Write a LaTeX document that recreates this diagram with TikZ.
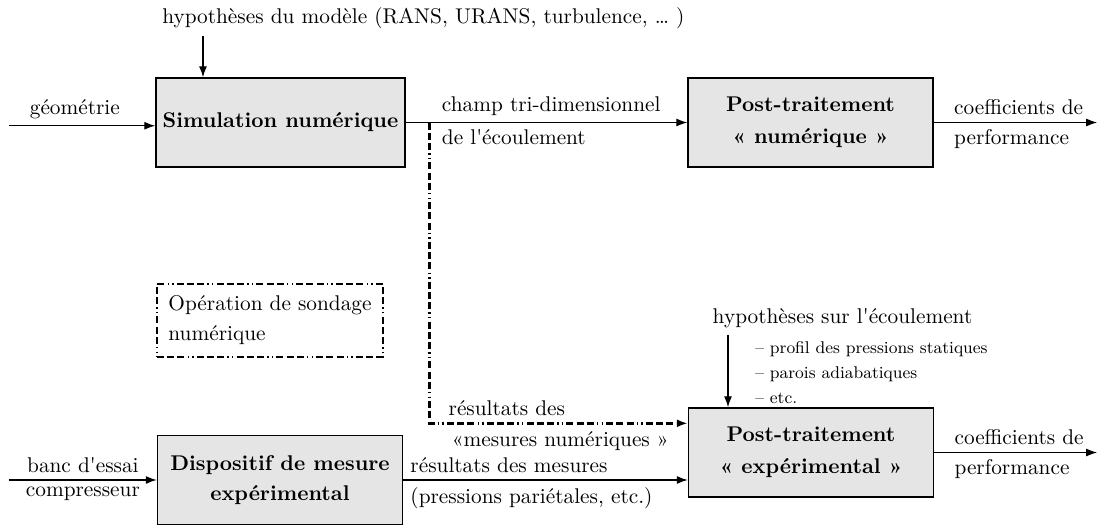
\documentclass[tikz,border=0pt]{standalone}
\usepackage{fontspec}
\usetikzlibrary{positioning, arrows.meta}
\newcommand{\apo}{\textquotesingle}
\newcommand{\taille}{\fontsize{10.65}{12.8}\selectfont}

\begin{document}
\begin{tikzpicture}[
	>={Latex[length=5.5pt, width=4pt]},
	font=\taille,
	bloc/.style={draw, line width=0.7pt, fill=black!10, minimum width=4.305cm, minimum height=1.564cm, align=center, font=\taille\bfseries},
	fleche/.style={->, line width=0.65pt},
	sondage/.style={line width=1.3pt, dash pattern=on 3.5pt off 1.6pt on 3.5pt off 1.6pt on 3.5pt off 1.6pt on 0.7pt off 1.6pt on 0.7pt off 1.6pt}
	]
	\useasboundingbox (0,0) rectangle (19.295,-9.226);
	% blocs
	\node[bloc] (sim) at (4.929,-2.153) {Simulation numérique};
	\node[bloc] (postnum) at (14.243,-2.153) {Post-traitement\\[3.2pt]« numérique »};
	\node[bloc] (dispo) at (4.920,-8.435) {Dispositif de mesure\\[2.2pt]expérimental};
	\node[bloc] (postexp) at (14.252,-7.952) {Post-traitement\\[3.2pt]« expérimental »};
	\node[draw, sondage, align=left, inner xsep=0.2cm, minimum height=1.283cm] (legende) at (4.745,-5.632) {Opération de sondage\\[2.2pt]numérique};
	% hypotheses
	\node (hypmod) at (7.44,-0.32) {hypothèses du modèle (RANS, URANS, turbulence, … )};
	\node (hypexp) at (14.805,-5.588) {hypothèses sur l\apo écoulement};
	\node[font=\fontsize{8.5}{10.1}\selectfont, align=left, anchor=west] (listeexp) at (13.150,-6.546) {-- profil des pressions statiques\\[2.4pt]-- parois adiabatiques\\[2.4pt]-- etc.};
	\coordinate (hmx) at (3.567,0);
	\coordinate (hex) at (12.793,0);
	\draw[fleche] (hypmod.south -| hmx) -- (sim.north -| hmx);
	\draw[fleche] (hypexp.south -| hex) -- (postexp.north -| hex);
	% entrees et sorties
	\coordinate (geo) at (0.158,-2.21);
	\coordinate (banc) at (0.158,-8.435);
	\coordinate (sortnum) at (19.28,-2.153);
	\coordinate (sortexp) at (19.28,-7.952);
	\draw[fleche] (geo) -- node[above, pos=0.45] {géométrie} (geo -| sim.west);
	\draw[fleche] (banc) -- node[above] {banc d\apo essai} node[below] {compresseur} (dispo);
	\draw[fleche] (sim) -- coordinate[pos=0.084] (sonde)
		node[above right, pos=0.103] {champ tri-dimensionnel}
		node[below right, pos=0.103] {de l\apo écoulement} (postnum);
	\draw[fleche] (postnum) -- node[above right, pos=0.08] {coefficients de} node[below right, pos=0.08] {performance} (sortnum);
	\draw[fleche] (postexp) -- node[above right, pos=0.08] {coefficients de} node[below right, pos=0.08] {performance} (sortexp);
	\draw[fleche] (dispo) -- node[above right, pos=0] {résultats des mesures}
		node[below right, pos=0] {(pressions pariétales, etc.)} (dispo -| postexp.west);
	% sondage numerique
	\draw[sondage, ->] (sonde) |- node[above right, pos=0.522] {résultats des}
		node[below right, pos=0.528] {«mesures numériques »} ([yshift=-8pt]postexp.north west);
\end{tikzpicture}
\end{document}
